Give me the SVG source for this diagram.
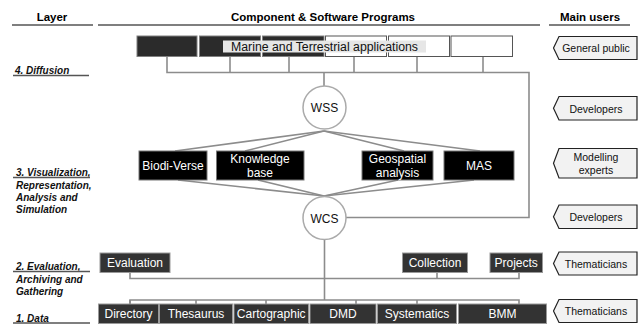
<svg xmlns="http://www.w3.org/2000/svg" width="643" height="325" viewBox="0 0 643 325">
<style>
text{font-family:"Liberation Sans",Arial,sans-serif}
.hd{font-size:11.5px;font-weight:bold;text-anchor:middle}
.ly{font-size:10px;font-weight:bold;font-style:italic;fill:#111}
.rule{stroke:#555;stroke-width:1.3}
.con{stroke:#8c8c8c;stroke-width:1.6;fill:none}
.dk{fill:#2b2b2b;stroke:#808080;stroke-width:1}
.wh{fill:#fff;stroke:#555;stroke-width:1}
.bk{fill:#000;stroke:#777;stroke-width:1}
.db{fill:#333;stroke:#999;stroke-width:1}
.wt{fill:#fff;font-size:12px;text-anchor:middle}
.ci{fill:#fff;stroke:#aaa;stroke-width:1.5}
.ct{fill:#111;font-size:12px;text-anchor:middle}
.us{fill:#f2f2f2;stroke:#222;stroke-width:1.2}
.ut{fill:#111;font-size:10.5px;text-anchor:middle}
</style>
<g id="header">
<text class="hd" x="52" y="21">Layer</text>
<text class="hd" x="323" y="21">Component &amp; Software Programs</text>
<text class="hd" x="590" y="21">Main users</text>
<line class="rule" x1="12" y1="25" x2="93" y2="25"/>
<line class="rule" x1="98" y1="25" x2="540" y2="25"/>
<line class="rule" x1="549" y1="25" x2="630" y2="25"/>
</g>
<g id="layers">
<text class="ly" x="15" y="74">4. Diffusion</text>
<line class="rule" x1="13" y1="75.5" x2="89" y2="75.5"/>
<text class="ly" x="16" y="176">3. Visualization,</text>
<line class="rule" x1="13" y1="177.5" x2="90" y2="177.5"/>
<text class="ly" x="16" y="189">Representation,</text>
<text class="ly" x="16" y="201">Analysis and</text>
<text class="ly" x="16" y="213">Simulation</text>
<text class="ly" x="16" y="270">2. Evaluation,</text>
<line class="rule" x1="13" y1="271.5" x2="90" y2="271.5"/>
<text class="ly" x="16" y="283">Archiving and</text>
<text class="ly" x="16" y="295">Gathering</text>
<text class="ly" x="16" y="322">1. Data</text>
<line class="rule" x1="13" y1="323" x2="90" y2="323"/>
</g>
<g id="connectors">
<polyline class="con" points="167,57 167,72.5 529,72.5 529,217.5 346,217.5"/>
<line class="con" x1="230" y1="57" x2="230" y2="72.5"/>
<line class="con" x1="289" y1="57" x2="289" y2="72.5"/>
<line class="con" x1="354" y1="57" x2="354" y2="72.5"/>
<line class="con" x1="417" y1="57" x2="417" y2="72.5"/>
<line class="con" x1="483" y1="57" x2="483" y2="72.5"/>
<line class="con" x1="324" y1="72.5" x2="324" y2="86"/>
<line class="con" x1="324" y1="131" x2="175" y2="151"/>
<line class="con" x1="324" y1="131" x2="245" y2="151"/>
<line class="con" x1="324" y1="131" x2="404" y2="151"/>
<line class="con" x1="324" y1="131" x2="480" y2="151"/>
<line class="con" x1="324" y1="196" x2="178" y2="180"/>
<line class="con" x1="324" y1="196" x2="258" y2="180"/>
<line class="con" x1="324" y1="196" x2="398" y2="180"/>
<line class="con" x1="324" y1="196" x2="474" y2="180"/>
<line class="con" x1="324.5" y1="240" x2="324.5" y2="300"/>
<polyline class="con" points="130,272 130,278.5 519,278.5 519,272"/>
<line class="con" x1="437" y1="272" x2="437" y2="278.5"/>
<line class="con" x1="130" y1="304" x2="130" y2="300"/>
<polyline class="con" points="130,304 130,300 519,300 519,304"/>
<line class="con" x1="196" y1="300" x2="196" y2="304"/>
<line class="con" x1="266" y1="300" x2="266" y2="304"/>
<line class="con" x1="356" y1="300" x2="356" y2="304"/>
<line class="con" x1="417" y1="300" x2="417" y2="304"/>
</g>
<g id="diffusion-apps">
<rect class="dk" x="137" y="36" width="60" height="20.5"/>
<rect class="dk" x="199.5" y="36" width="61" height="20.5"/>
<rect class="dk" x="262.5" y="36" width="61.5" height="20.5"/>
<rect class="wh" x="325.5" y="36" width="61" height="20.5"/>
<rect class="wh" x="388.5" y="36" width="61" height="20.5"/>
<rect class="wh" x="451" y="36" width="61.5" height="20.5"/>
<rect x="223" y="40.5" width="203" height="12" fill="#e6e6e6"/>
<text x="324.5" y="51" font-size="12.3" text-anchor="middle" fill="#111">Marine and Terrestrial applications</text>
</g>
<g id="wss"><circle class="ci" cx="324.5" cy="107.5" r="21.5"/><text class="ct" x="324.5" y="112">WSS</text></g>
<g id="biodi-verse"><rect class="bk" x="139" y="151" width="68" height="29"/><text class="wt" x="173" y="170">Biodi-Verse</text></g>
<g id="knowledge-base"><rect class="bk" x="216.5" y="151" width="87.5" height="29"/><text class="wt" x="260" y="162.5">Knowledge</text><text class="wt" x="260" y="177">base</text></g>
<g id="geospatial-analysis"><rect class="bk" x="362" y="151" width="71" height="29"/><text class="wt" x="397.5" y="162.5">Geospatial</text><text class="wt" x="397.5" y="177">analysis</text></g>
<g id="mas"><rect class="bk" x="444" y="151" width="70" height="29"/><text class="wt" x="479" y="170">MAS</text></g>
<g id="wcs"><circle class="ci" cx="324.5" cy="218" r="21.5"/><text class="ct" x="324.5" y="222.5">WCS</text></g>
<g id="evaluation"><rect class="db" x="100" y="253" width="70" height="19.5"/><text class="wt" x="135" y="267">Evaluation</text></g>
<g id="collection"><rect class="db" x="402.5" y="253" width="65" height="19.5"/><text class="wt" x="435" y="267">Collection</text></g>
<g id="projects"><rect class="db" x="490" y="253" width="52.5" height="19.5"/><text class="wt" x="516.2" y="267">Projects</text></g>
<g id="directory"><rect class="db" x="98.5" y="304" width="60" height="19.5"/><text class="wt" x="128.5" y="318">Directory</text></g>
<g id="thesaurus"><rect class="db" x="159.5" y="304" width="73" height="19.5"/><text class="wt" x="196" y="318">Thesaurus</text></g>
<g id="cartographic"><rect class="db" x="234" y="304" width="74.5" height="19.5"/><text class="wt" x="271.2" y="318">Cartographic</text></g>
<g id="dmd"><rect class="db" x="310" y="304" width="66" height="19.5"/><text class="wt" x="343" y="318">DMD</text></g>
<g id="systematics"><rect class="db" x="377.5" y="304" width="79" height="19.5"/><text class="wt" x="417" y="318">Systematics</text></g>
<g id="bmm"><rect class="db" x="458.5" y="304" width="88" height="19.5"/><text class="wt" x="502.5" y="318">BMM</text></g>
<g id="user-general-public"><polygon class="us" points="559,36.5 637,36.5 637,59.5 559,59.5 553.5,48"/><text class="ut" x="596" y="52">General public</text></g>
<g id="user-developers-1"><polygon class="us" points="559,96.5 637,96.5 637,120 559,120 553.5,108.2"/><text class="ut" x="596" y="112.5">Developers</text></g>
<g id="user-modelling-experts"><polygon class="us" points="559,148.5 637,148.5 637,178 559,178 553.5,163.2"/><text class="ut" x="596" y="161">Modelling</text><text class="ut" x="596" y="174">experts</text></g>
<g id="user-developers-2"><polygon class="us" points="559,205 637,205 637,228.5 559,228.5 553.5,216.7"/><text class="ut" x="596" y="221">Developers</text></g>
<g id="user-thematicians-1"><polygon class="us" points="559,252 637,252 637,275 559,275 553.5,263.5"/><text class="ut" x="596" y="267.5">Thematicians</text></g>
<g id="user-thematicians-2"><polygon class="us" points="559,299.5 637,299.5 637,322.5 559,322.5 553.5,311"/><text class="ut" x="596" y="315">Thematicians</text></g>
</svg>
